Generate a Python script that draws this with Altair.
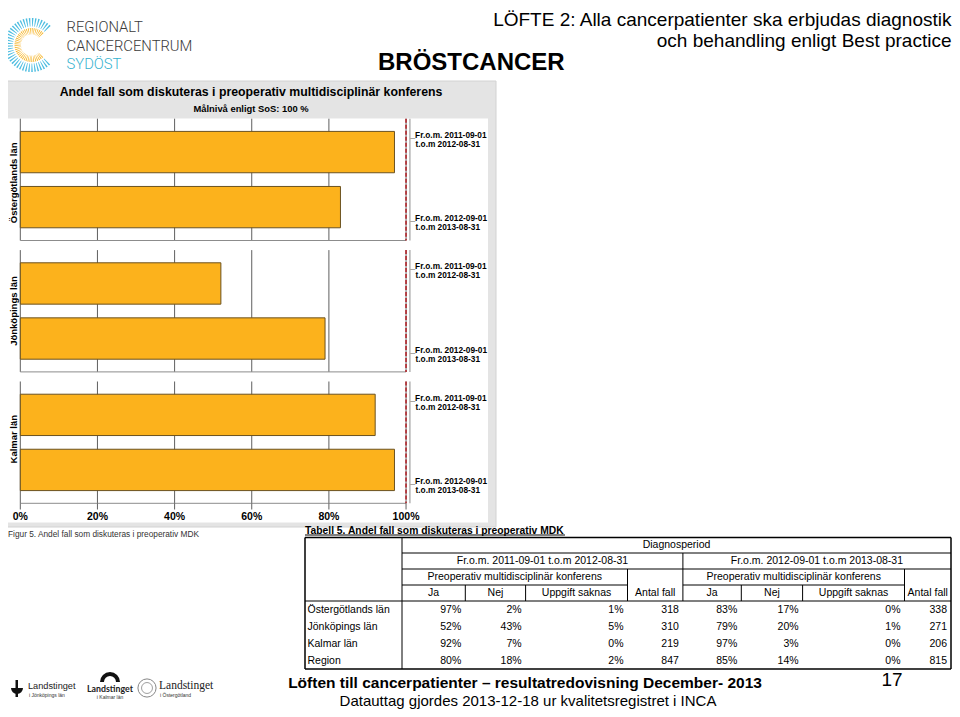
import altair as alt
import pandas as pd

W, H = 944, 701
SANS = "Liberation Sans"


def P(v):
    return v - 8


# ---------------- data ----------------
counties = ["Östergötlands län", "Jönköpings län", "Kalmar län"]
periods = ["Fr.o.m. 2011-09-01 t.o.m 2012-08-31", "Fr.o.m. 2012-09-01 t.o.m 2013-08-31"]
ja_p1 = [97, 52, 92]
ja_p2 = [83, 79, 97]
x_ticks = [0, 20, 40, 60, 80, 100]
x_tick_labels = ["0%", "20%", "40%", "60%", "80%", "100%"]
grid_ticks = [0, 20, 40, 60, 80]
target_level = [100]
axis_end = [101]

table_rows = ["Östergötlands län", "Jönköpings län", "Kalmar län", "Region"]
ja1 = [97, 52, 92, 80]
nej1 = [2, 43, 7, 18]
saknas1 = [1, 5, 0, 2]
antal1 = [318, 310, 219, 847]
ja2 = [83, 79, 97, 85]
nej2 = [17, 20, 3, 14]
saknas2 = [0, 1, 0, 0]
antal2 = [338, 271, 206, 815]

# ---------------- tables for the library ----------------
bars_df = pd.DataFrame({
    "county": counties * 2,
    "period": [periods[0]] * 3 + [periods[1]] * 3,
    "value": ja_p1 + ja_p2,
})
bars_df["l1"] = "_" + bars_df["period"].str.split(" t.o.m").str[0]
bars_df["l2"] = "t.o.m" + bars_df["period"].str.split(" t.o.m").str[1]

ticks_df = pd.DataFrame({"v": x_ticks, "lab": x_tick_labels})
panel_df = pd.DataFrame({"county": counties, "x0": [x_ticks[0]] * 3, "x1": [x_ticks[-1]] * 3})

pct = lambda a: [f"{v}%" for v in a]
tbl = pd.DataFrame({
    "row": table_rows,
    "ja1": pct(ja1), "nej1": pct(nej1), "sak1": pct(saknas1), "ant1": [str(v) for v in antal1],
    "ja2": pct(ja2), "nej2": pct(nej2), "sak2": pct(saknas2), "ant2": [str(v) for v in antal2],
})

one = pd.DataFrame({"a": [0]})
seg_df = pd.DataFrame({"seg": list(range(40)), "one": [1] * 40})

# ---------------- table geometry (page px) ----------------
TL, C1, JN1, NU1, UA1, CP, JN2, NU2, UA2, TR = 305, 402, 465.3, 525.6, 627.5, 682.9, 741.3, 802.6, 904.5, 951
TT, R1, R2, R3, HB, TB = 537.5, 553, 569, 585, 601, 669

# ---------------- scales ----------------
xs = alt.Scale(domain=[0, 101], range=[P(20.3), P(409.9)])
ys = alt.Scale(domain=counties, range=[P(118.7), P(503.3)], paddingInner=0.073, paddingOuter=0)
yos = alt.Scale(domain=periods, paddingInner=0.249, paddingOuter=0.231)
rs = alt.Scale(domain=table_rows, range=[P(HB), P(TB)], paddingInner=0, paddingOuter=0)


# ---------------- helpers ----------------
def txt(s, x, y, size=11, weight="normal", align="left", baseline="middle",
        color="#000000", font=SANS, angle=0):
    m = dict(align=align, baseline=baseline, fontSize=size, font=font,
             color=color, fontWeight=weight)
    if angle:
        m["angle"] = angle
    return alt.Chart(pd.DataFrame({"t": [s]})).mark_text(**m).encode(
        x=alt.value(P(x)), y=alt.value(P(y)), text="t:N")


def seg(x1, y1, x2, y2, color="#000000", w=1.0):
    return alt.Chart(one).mark_rule(color=color, strokeWidth=w).encode(
        x=alt.value(P(x1)), y=alt.value(P(y1)), x2=alt.value(P(x2)), y2=alt.value(P(y2)))


def box(x1, y1, x2, y2, fill, stroke=None, w=1.0):
    m = dict(fill=fill)
    if stroke:
        m.update(stroke=stroke, strokeWidth=w)
    return alt.Chart(one).mark_rect(**m).encode(
        x=alt.value(P(x1)), x2=alt.value(P(x2)), y=alt.value(P(y1)), y2=alt.value(P(y2)))


def vlines(values, color, w=1.0, dash=None):
    df = pd.DataFrame([(c, v) for c in counties for v in values], columns=["county", "v"])
    m = dict(color=color, strokeWidth=w)
    if dash:
        m["strokeDash"] = dash
    return alt.Chart(df).mark_rule(**m).encode(
        x=alt.X("v:Q", scale=xs, axis=None),
        y=alt.Y("county:N", scale=ys, axis=None, bandPosition=0),
        y2=alt.Y2("county:N", bandPosition=1))


def ring(r_out, r_in, color):
    return alt.Chart(seg_df).mark_arc(radius=r_out, radius2=r_in, padAngle=0.05, color=color).encode(
        theta=alt.Theta("one:Q", stack=True, scale=alt.Scale(domain=[0, 40], range=[2.35, 7.1])),
        order=alt.Order("seg:Q"),
        detail="seg:N",
        x=alt.value(P(31.5)), y=alt.value(P(45)))


def col(field, x, align="right", size=10.5):
    return alt.Chart(tbl).mark_text(align=align, baseline="middle", font=SANS,
                                     fontSize=size, color="#000000").encode(
        x=alt.value(P(x)), y=alt.Y("row:N", scale=rs, axis=None), text=f"{field}:N")


layers = []

# ---------------- header ----------------
layers += [
    ring(27, 18.5, "#4dbde0"),
    ring(17, 10.5, "#f5b325"),
    txt("REGIONALT", 66.5, 31.7, size=14.8, weight=300, baseline="alphabetic", color="#3a3a3a", font="Roboto"),
    txt("CANCERCENTRUM", 66.5, 50.7, size=14.8, weight=300, baseline="alphabetic", color="#3a3a3a", font="Roboto"),
    txt("SYDÖST", 66.5, 69.3, size=14.8, weight=300, baseline="alphabetic", color="#35b2cf", font="Roboto"),
    txt("BRÖSTCANCER", 378, 69.5, size=24, weight="bold", baseline="alphabetic"),
    txt("LÖFTE 2: Alla cancerpatienter ska erbjudas diagnostik", 951.5, 26, size=19,
        align="right", baseline="alphabetic"),
    txt("och behandling enligt Best practice", 951.5, 46.5, size=19, align="right", baseline="alphabetic"),
]

# ---------------- chart frame ----------------
layers += [
    box(0, 81, 496, 527, "#e4e4e4", stroke="#d2d2d2"),
    box(8, 118.5, 488, 522.5, "#ffffff"),
    txt("Andel fall som diskuteras i preoperativ multidisciplinär konferens", 251, 91.5,
        size=12.3, weight="bold", align="center"),
    txt("Målnivå enligt SoS: 100 %", 251, 109, size=9.4, weight="bold", align="center"),
]

# ---------------- chart ----------------
layers += [
    vlines(grid_ticks, "#5f5f5f", 1.0),
    vlines(axis_end, "#b3b3b3", 1.5),
    alt.Chart(panel_df).mark_rule(color="#8c8c8c", strokeWidth=1).encode(
        x=alt.X("x0:Q", scale=xs, axis=None), x2="x1:Q",
        y=alt.Y("county:N", scale=ys, axis=None, bandPosition=1)),
    vlines(target_level, "#6a6a6a", 1.0),
    vlines(target_level, "#b3262b", 1.6, dash=[4, 2]),
    alt.Chart(bars_df).mark_bar(fill="#FCB21C", stroke="#6b5220", strokeWidth=1).encode(
        x=alt.X("value:Q", scale=xs, axis=None),
        y=alt.Y("county:N", scale=ys, axis=None),
        yOffset=alt.YOffset("period:N", scale=yos)),
    alt.Chart(bars_df).mark_text(align="left", baseline="alphabetic", font=SANS, fontSize=8.3,
                                 fontWeight="bold", color="#000000").encode(
        x=alt.value(P(410.5)),
        y=alt.Y("county:N", scale=ys, axis=None),
        yOffset=alt.YOffset("period:N", scale=yos),
        text="l1:N"),
    alt.Chart(bars_df).mark_text(align="left", baseline="alphabetic", font=SANS, fontSize=8.3,
                                 fontWeight="bold", color="#000000", dy=9).encode(
        x=alt.value(P(415.5)),
        y=alt.Y("county:N", scale=ys, axis=None),
        yOffset=alt.YOffset("period:N", scale=yos),
        text="l2:N"),
    alt.Chart(pd.DataFrame({"county": counties})).mark_text(
        angle=270, align="center", baseline="middle", font=SANS, fontSize=9.5,
        fontWeight="bold", color="#000000").encode(
        x=alt.value(P(13.5)), y=alt.Y("county:N", scale=ys, axis=None), text="county:N"),
    alt.Chart(ticks_df).mark_rule(color="#5f5f5f", strokeWidth=1).encode(
        x=alt.X("v:Q", scale=xs, axis=None), y=alt.value(P(503.3)), y2=alt.value(P(509.5))),
    alt.Chart(ticks_df).mark_text(align="center", baseline="middle", font=SANS, fontSize=10.5,
                                  fontWeight="bold", color="#000000").encode(
        x=alt.X("v:Q", scale=xs, axis=None), y=alt.value(P(517)), text="lab:N"),
]

# ---------------- captions ----------------
layers += [
    txt("Figur 5. Andel fall som diskuteras i preoperativ MDK", 8, 535, size=8.3, color="#333333"),
    txt("Tabell 5. Andel fall som diskuteras i preoperativ MDK", 305, 530.5, size=10.3, weight="bold"),
    seg(305, 535, 565, 535, w=1),
]

# ---------------- table ----------------
layers += [
    seg(TL, TT, TR, TT, w=1.5), seg(TL, TB, TR, TB, w=1.5),
    seg(TL, TT, TL, TB, w=1.5), seg(TR, TT, TR, TB, w=1.5),
    seg(C1, TT, C1, TB), seg(C1, R1, TR, R1), seg(C1, R2, TR, R2),
    seg(C1, R3, UA1, R3), seg(CP, R3, UA2, R3), seg(TL, HB, TR, HB, w=1.2),
    seg(CP, R1, CP, HB), seg(UA1, R2, UA1, HB), seg(UA2, R2, UA2, HB),
    seg(JN1, R3, JN1, HB), seg(NU1, R3, NU1, HB), seg(JN2, R3, JN2, HB), seg(NU2, R3, NU2, HB),
]
hc = lambda a, b: (a + b) / 2
y1, y2, y3, y4 = hc(TT, R1), hc(R1, R2), hc(R2, R3), hc(R3, HB)
layers += [
    txt("Diagnosperiod", hc(C1, TR), y1, size=10.5, align="center"),
    txt(periods[0], hc(C1, CP), y2, size=10.5, align="center"),
    txt(periods[1], hc(CP, TR), y2, size=10.5, align="center"),
    txt("Preoperativ multidisciplinär konferens", hc(C1, UA1), y3, size=10.5, align="center"),
    txt("Preoperativ multidisciplinär konferens", hc(CP, UA2), y3, size=10.5, align="center"),
]
for (a, b, s) in [(C1, JN1, "Ja"), (JN1, NU1, "Nej"), (NU1, UA1, "Uppgift saknas"), (UA1, CP, "Antal fall"),
                  (CP, JN2, "Ja"), (JN2, NU2, "Nej"), (NU2, UA2, "Uppgift saknas"), (UA2, TR, "Antal fall")]:
    layers.append(txt(s, hc(a, b), y4, size=10.5, align="center"))
layers += [
    col("row", TL + 2.5, align="left"),
    col("ja1", JN1 - 4), col("nej1", NU1 - 4), col("sak1", UA1 - 4), col("ant1", CP - 4),
    col("ja2", JN2 - 4), col("nej2", NU2 - 4), col("sak2", UA2 - 4), col("ant2", TR - 4),
]

# ---------------- footer ----------------
layers += [
    alt.Chart(one).mark_arc(theta=1.571, theta2=4.712, radius=6, color="#111111").encode(
        x=alt.value(P(17)), y=alt.value(P(688))),
    box(15.5, 680, 18, 697, "#111111"),
    txt("Landstinget", 28, 686, size=9.2, color="#222222"),
    txt("i Jönköpings län", 29, 694.5, size=5, color="#333333"),
    alt.Chart(one).mark_arc(theta=4.712, theta2=7.854, radius=10, radius2=6, color="#111111").encode(
        x=alt.value(P(110)), y=alt.value(P(682))),
    txt("Landstinget", 110, 689, size=8.8, weight="bold", align="center", color="#222222", font="Lato"),
    txt("i Kalmar län", 110, 697, size=5, align="center", color="#333333"),
    alt.Chart(one).mark_point(shape="circle", filled=False, size=330, stroke="#555555", strokeWidth=1).encode(
        x=alt.value(P(147)), y=alt.value(P(688))),
    alt.Chart(one).mark_point(shape="circle", filled=False, size=120, stroke="#777777", strokeWidth=1).encode(
        x=alt.value(P(147)), y=alt.value(P(688))),
    txt("Landstinget", 159, 686, size=11.5, color="#222222", font="Liberation Serif"),
    txt("i Östergötland", 160, 695, size=5, color="#333333"),
    txt("17", 892, 680, size=19, align="center"),
    txt("Löften till cancerpatienter – resultatredovisning December- 2013", 525, 683,
        size=15.5, weight="bold", align="center"),
    txt("Datauttag gjordes 2013-12-18 ur kvalitetsregistret i INCA", 528, 700.5,
        size=15, align="center"),
]

chart = alt.layer(*layers).resolve_scale(
    x="independent", y="independent", yOffset="independent", theta="independent"
).properties(
    width=W, height=H, autosize=alt.AutoSizeParams(type="none"), padding=0, background="#ffffff"
).configure_view(stroke=None)

chart.save("out.html", embed_options={"renderer": "svg", "actions": False})
